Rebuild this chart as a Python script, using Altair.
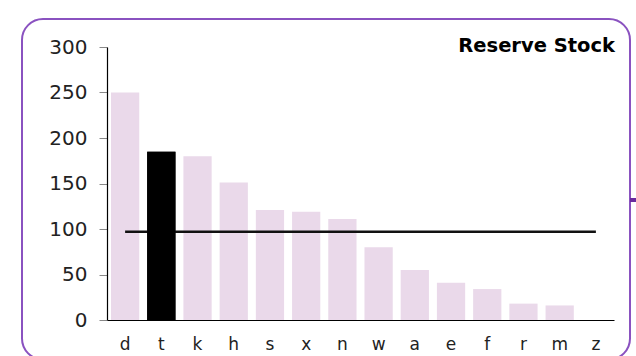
import altair as alt
import pandas as pd

# Reserve stock levels by category
categories = ["d", "t", "k", "h", "s", "x", "n", "w", "a", "e", "f", "r", "m", "z"]
stock = [250, 185, 180, 151, 121, 119, 111, 80, 55, 41, 34, 18, 16, 0]
highlight = "t"
reference_level = 97
y_ticks = [0, 50, 100, 150, 200, 250, 300]

bars = pd.DataFrame({"category": categories, "stock": stock})
bars["kind"] = ["focus" if c == highlight else "other" for c in categories]
ref = pd.DataFrame({"category": [categories[0], categories[-1]],
                    "stock": [reference_level, reference_level]})

W, H = 507, 273
FONT = "DejaVu Sans"

x_enc = alt.X("category:N", sort=categories,
              scale=alt.Scale(paddingInner=0.22, paddingOuter=0.11),
              axis=alt.Axis(title=None, labelAngle=0, labelFontSize=17,
                            labelColor="#222222", labelPadding=16,
                            ticks=False, domainColor="#000000",
                            domainWidth=1.2))
y_enc = alt.Y("stock:Q", scale=alt.Scale(domain=[0, 300], nice=False),
              axis=alt.Axis(title=None, values=y_ticks, grid=False,
                            labelFontSize=20, labelColor="#222222",
                            labelPadding=12, tickSize=8,
                            tickColor="#888888", domainColor="#000000",
                            domainWidth=1.2))

bar_layer = alt.Chart(bars).mark_bar().encode(
    x=x_enc,
    y=y_enc,
    color=alt.Color("kind:N",
                    scale=alt.Scale(domain=["focus", "other"],
                                    range=["#000000", "#ead9ea"]),
                    legend=None),
)

ref_layer = alt.Chart(ref).mark_line(color="#111111", strokeWidth=2.4).encode(
    x=alt.X("category:N", sort=categories),
    y=alt.Y("stock:Q"),
)

focus_layer = alt.Chart(bars[bars["kind"] == "focus"]).mark_bar(color="#000000").encode(
    x=alt.X("category:N", sort=categories),
    y=alt.Y("stock:Q"),
)

deco = pd.DataFrame({"k": [0]})

# rounded panel border, its lower edge runs just past the bottom of the canvas
frame = alt.Chart(deco).mark_rect(
    filled=False, stroke="#8a52c0", strokeWidth=2, cornerRadius=21, clip=False
).encode(
    x=alt.value(-85), x2=alt.value(523),
    y=alt.value(-28), y2=alt.value(312.5),
)

stub = alt.Chart(deco).mark_rule(
    color="#6a2c9e", strokeWidth=4, clip=False
).encode(
    x=alt.value(523), x2=alt.value(530), y=alt.value(153),
)

title = alt.Chart(deco).mark_text(
    text="Reserve Stock", align="right", baseline="alphabetic",
    fontSize=19.5, fontWeight="bold", font=FONT, color="#000000"
).encode(x=alt.value(508), y=alt.value(5))

chart = alt.layer(frame, stub, bar_layer, ref_layer, focus_layer, title).properties(
    width=W, height=H,
    autosize=alt.AutoSizeParams(type="none"),
    padding={"left": 107, "top": 47, "right": 22, "bottom": 36},
).configure(font=FONT).configure_view(stroke=None)

chart.save("out.html", embed_options={"renderer": "svg", "actions": False})
